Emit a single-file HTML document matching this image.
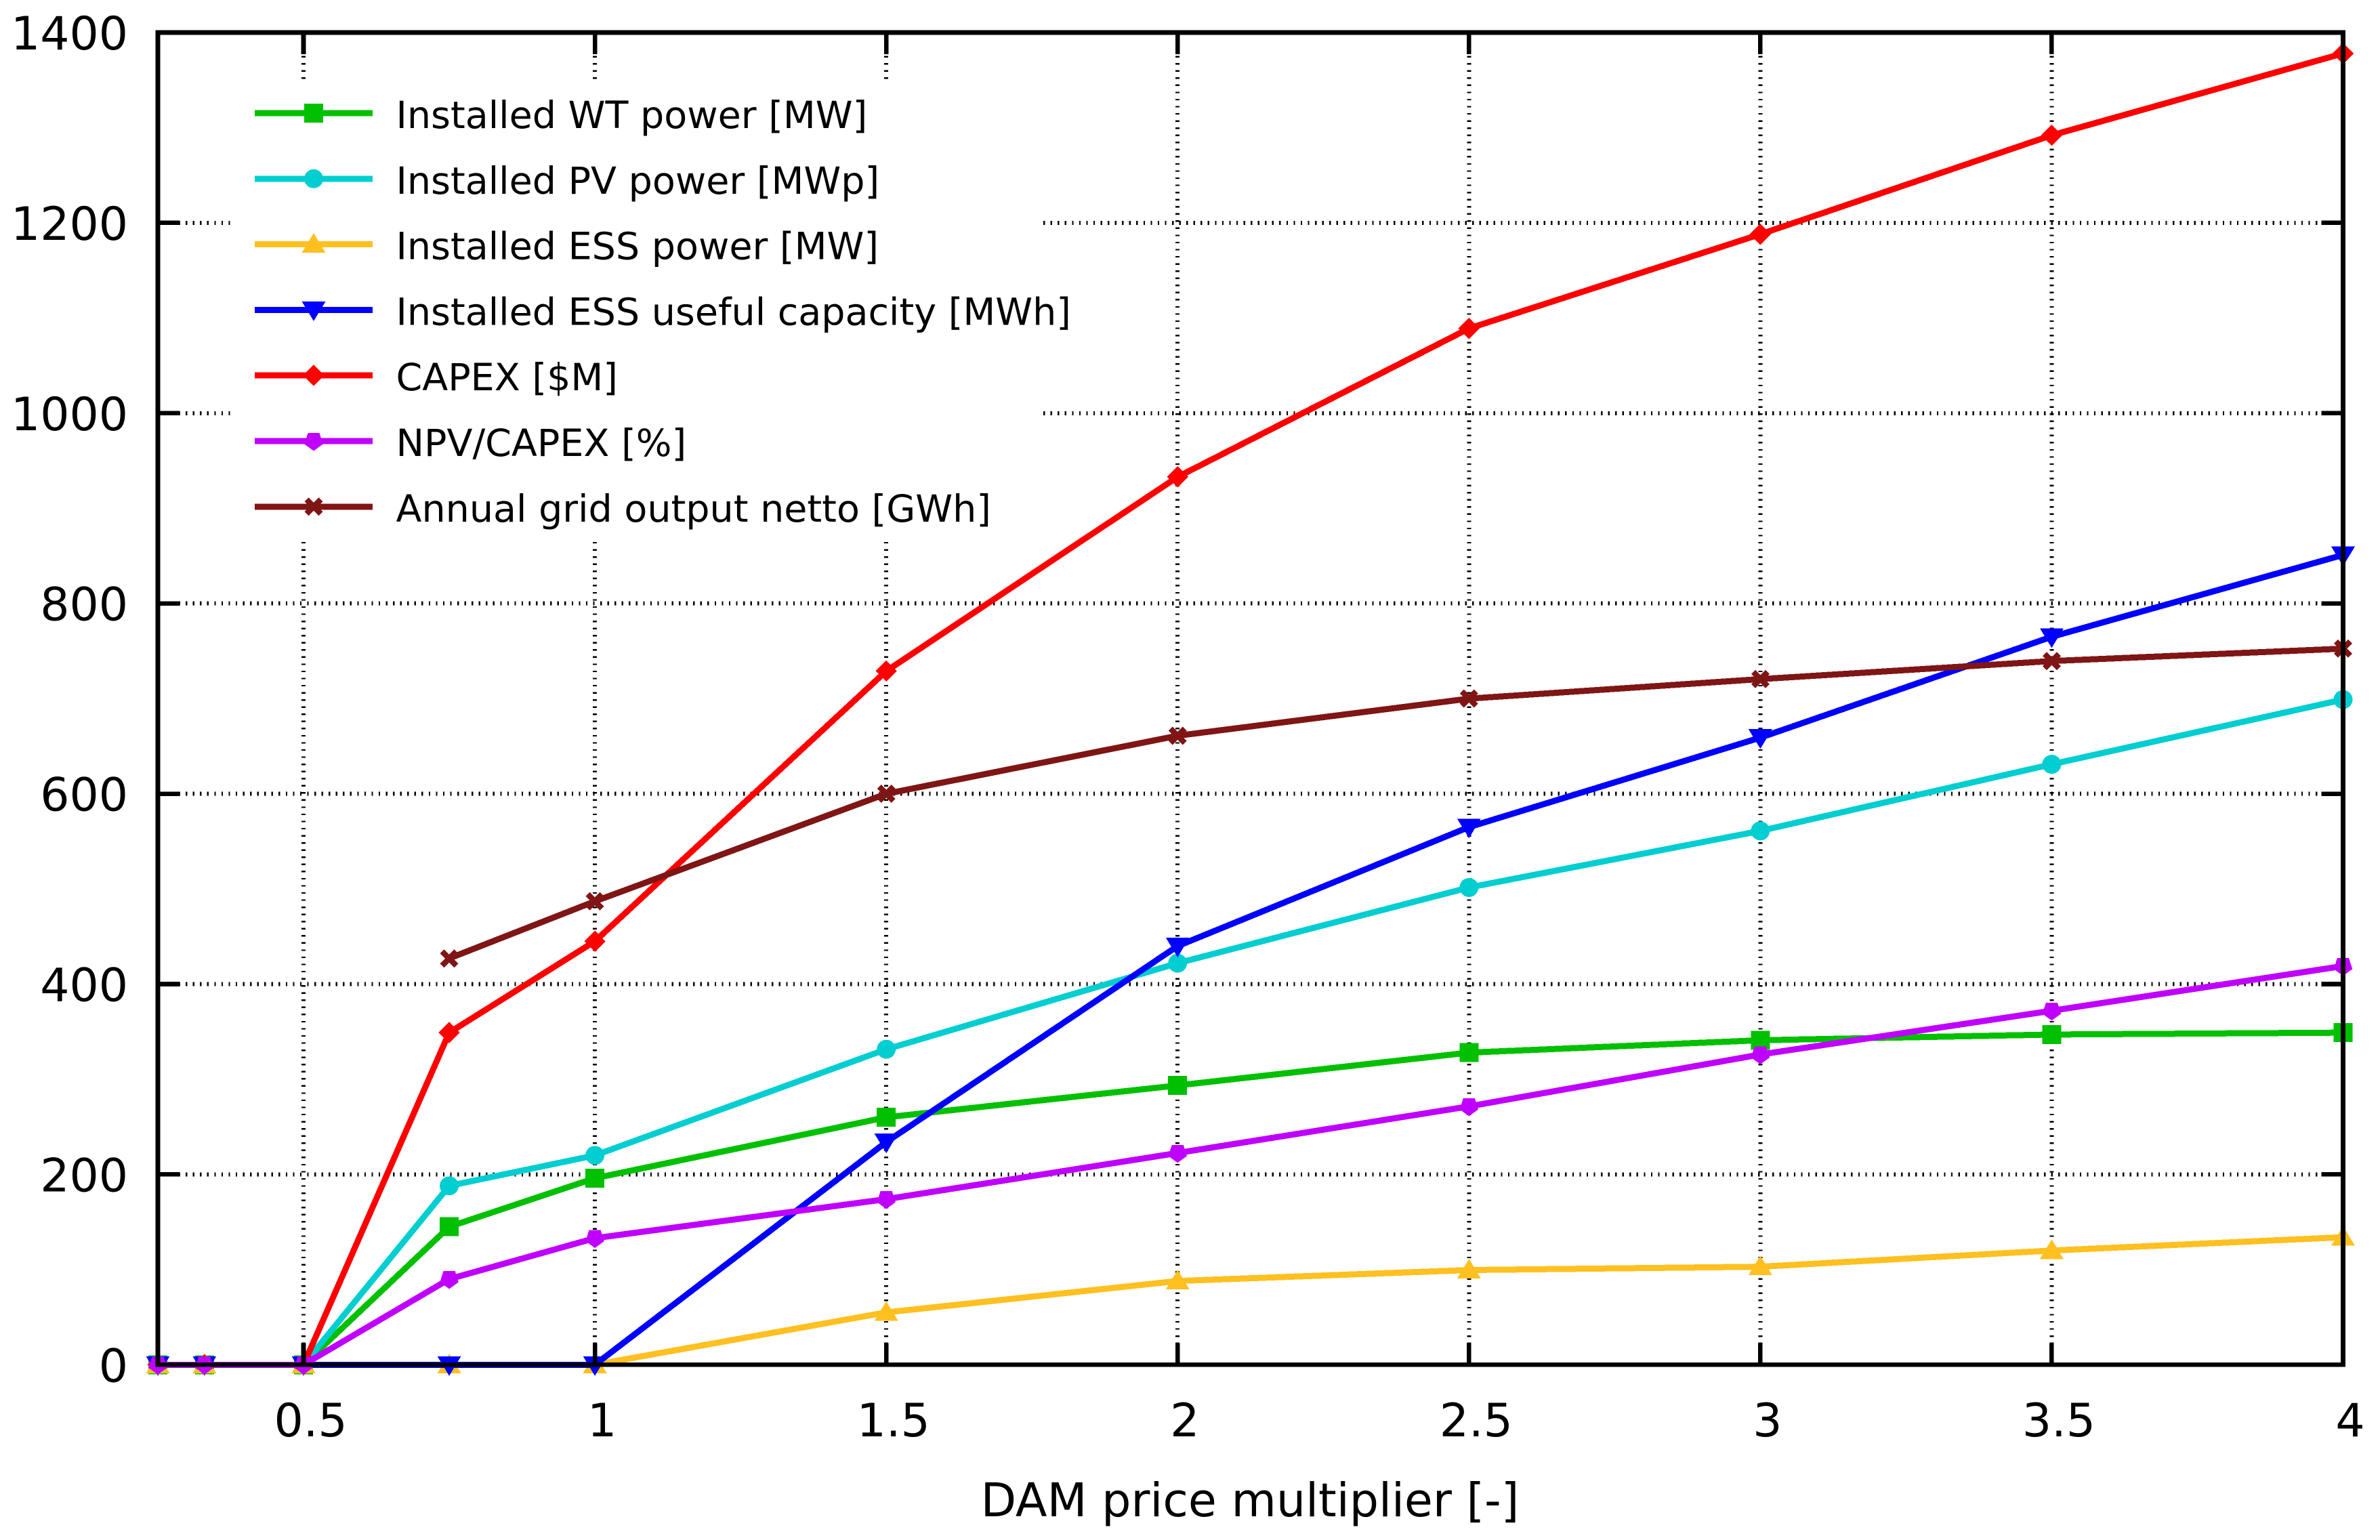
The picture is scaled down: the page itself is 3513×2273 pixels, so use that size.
<!DOCTYPE html>
<html lang="en">
<head>
<meta charset="utf-8">
<title>DAM price multiplier chart</title>
<style>
html,body{margin:0;padding:0;background:#fff;width:3513px;height:2273px;overflow:hidden}
svg{display:block}
text{font-family:"DejaVu Sans","Liberation Sans",sans-serif;fill:#000}
</style>
</head>
<body>
<svg id="chart" xmlns="http://www.w3.org/2000/svg" width="3513" height="2273" viewBox="0 0 3513 2273">
  <rect x="0" y="0" width="3513" height="2273" fill="#fff"/>
  <g id="grid"></g>
  <rect x="342" y="119" width="1190" height="679" fill="#fff"/>
  <g id="series"></g>
  <g id="legend"></g>
  <g id="axes"></g>
  <text x="1845" y="2238" font-size="68.2" text-anchor="middle">DAM price multiplier [-]</text>
</svg>
<script>
const multipliers = [0.25, 0.33, 0.5, 0.75, 1, 1.5, 2, 2.5, 3, 3.5, 4];
const wtPower     = [0, 0, 0, 145, 196, 260, 293.5, 328, 341, 347, 349];
const pvPower     = [0, 0, 0, 188, 220, 331.5, 422, 501.5, 561, 631, 699];
const essPower    = [0, 0, 0, 0, 0, 55, 88, 99.5, 103, 120, 134];
const essCapacity = [0, 0, 0, 0, 0, 234, 440, 565, 659, 765, 851];
const capex       = [0, 0, 0, 349, 445, 729, 933, 1089, 1188, 1292, 1378];
const npvCapex    = [0, 0, 0, 90, 133, 174, 222.5, 271.5, 326, 372, 419];
const gridOutput  = [null, null, null, 427, 487, 600, 661, 700, 720.5, 739.5, 752.5];
const xTickValues = [0.5, 1, 1.5, 2, 2.5, 3, 3.5, 4];
const yTickValues = [0, 200, 400, 600, 800, 1000, 1200, 1400];
const seriesNames = [
  "Installed WT power [MW]",
  "Installed PV power [MWp]",
  "Installed ESS power [MW]",
  "Installed ESS useful capacity [MWh]",
  "CAPEX [$M]",
  "NPV/CAPEX [%]",
  "Annual grid output netto [GWh]"
];
const seriesKeys = ["wt-power", "pv-power", "ess-power", "ess-capacity", "capex", "npv-capex", "grid-output"];
const seriesColors = ["#00c000", "#00ced1", "#ffc020", "#0000ff", "#ff0000", "#c000ff", "#801515"];
const seriesShapes = ["square", "circle", "triangle", "invtriangle", "diamond", "pentagon", "cross"];
const seriesValues = [wtPower, pvPower, essPower, essCapacity, capex, npvCapex, gridOutput];

const NS = "http://www.w3.org/2000/svg";
const plot = {left: 233, right: 3458.5, top: 48, bottom: 2014.3};
const xMin = 0.25, xMax = 4, yMin = 0, yMax = 1400;
function xScale(v) { return plot.left + (v - xMin) / (xMax - xMin) * (plot.right - plot.left); }
function yScale(v) { return plot.bottom - (v - yMin) / (yMax - yMin) * (plot.bottom - plot.top); }

function make(tag, attrs, parent) {
  const el = document.createElementNS(NS, tag);
  for (const k in attrs) el.setAttribute(k, attrs[k]);
  parent.appendChild(el);
  return el;
}
function polyPoints(cx, cy, pts) {
  return pts.map(function (p) { return (cx + p[0]) + "," + (cy + p[1]); }).join(" ");
}
const shapeOutlines = {
  triangle: [[0, -16.5], [17.5, 12.5], [-17.5, 12.5]],
  invtriangle: [[0, 16.5], [17.5, -12.5], [-17.5, -12.5]],
  diamond: [[0, -15.7], [15.7, 0], [0, 15.7], [-15.7, 0]],
  pentagon: [[0, 14.5], [13.8, 4.5], [8.5, -12], [-8.5, -12], [-13.8, 4.5]],
  cross: [[-7.5, -13.5], [0, -6], [7.5, -13.5], [13.5, -7.5], [6, 0], [13.5, 7.5], [7.5, 13.5], [0, 6], [-7.5, 13.5], [-13.5, 7.5], [-6, 0], [-13.5, -7.5]]
};
function drawMarker(shape, cx, cy, color, parent) {
  if (shape === "square") return make("rect", {x: cx - 14, y: cy - 14, width: 28, height: 28, fill: color}, parent);
  if (shape === "circle") return make("circle", {cx: cx, cy: cy, r: 14, fill: color}, parent);
  return make("polygon", {points: polyPoints(cx, cy, shapeOutlines[shape]), fill: color}, parent);
}

const gridGroup = document.getElementById("grid");
const seriesGroup = document.getElementById("series");
const legendGroup = document.getElementById("legend");
const axesGroup = document.getElementById("axes");
const crisp = "crispEdges";

/* grid */
xTickValues.forEach(function (v) {
  if (v === xMax) return;
  const line = make("line", {x1: xScale(v), x2: xScale(v), y1: plot.bottom, y2: plot.top, stroke: "#000", "stroke-width": 6, "stroke-dasharray": "2.3 8.25", "stroke-dashoffset": 1.15, "shape-rendering": crisp}, gridGroup);
  
  
});
yTickValues.forEach(function (v) {
  if (v === yMin || v === yMax) return;
  const line = make("line", {x1: plot.left, x2: plot.right, y1: yScale(v), y2: yScale(v), stroke: "#000", "stroke-width": 6, "stroke-dasharray": "2.3 8.25", "stroke-dashoffset": 1.15, "shape-rendering": crisp}, gridGroup);
  
  
});

/* series */
seriesValues.forEach(function (values, s) {
  const group = make("g", {}, seriesGroup);
  
  
  const pts = [];
  values.forEach(function (v, i) {
    if (v !== null) pts.push(xScale(multipliers[i]) + "," + yScale(v));
  });
  const line = make("polyline", {points: pts.join(" "), fill: "none", stroke: seriesColors[s], "stroke-width": 9, "stroke-linejoin": "round", "shape-rendering": crisp}, group);
  
  
  values.forEach(function (v, i) {
    if (v === null) return;
    const marker = drawMarker(seriesShapes[s], xScale(multipliers[i]), yScale(v), seriesColors[s], group);
    marker.setAttribute("shape-rendering", crisp);
    
    
  });
});

/* legend */
seriesNames.forEach(function (name, s) {
  const rowY = 167 + s * 96.8;
  const row = make("g", {}, legendGroup);
  
  
  const sample = make("line", {x1: 376, x2: 550, y1: rowY, y2: rowY, stroke: seriesColors[s], "stroke-width": 9, "shape-rendering": crisp}, row);
  
  
  const marker = drawMarker(seriesShapes[s], 463, rowY, seriesColors[s], row);
  marker.setAttribute("shape-rendering", crisp);
  
  
  const label = make("text", {x: 584.5, y: rowY + 22, "font-size": 55.5}, row);
  label.textContent = name;
  
  
});

/* axes: ticks, labels, border */
xTickValues.forEach(function (v) {
  const x = xScale(v);
  if (v !== xMax) {
    const bottomTick = make("line", {x1: x, x2: x, y1: plot.bottom, y2: plot.bottom - 32, stroke: "#000", "stroke-width": 6.6, "shape-rendering": crisp}, axesGroup);
    
    
    const topTick = make("line", {x1: x, x2: x, y1: plot.top, y2: plot.top + 32, stroke: "#000", "stroke-width": 6.6, "shape-rendering": crisp}, axesGroup);
    
    
  }
  const label = make("text", {x: x + 10.5, y: 2120, "font-size": 68, "text-anchor": "middle"}, axesGroup);
  label.textContent = String(v);
  
  
});
yTickValues.forEach(function (v) {
  const y = yScale(v);
  if (v !== yMin && v !== yMax) {
    const leftTick = make("line", {x1: plot.left, x2: plot.left + 32, y1: y, y2: y, stroke: "#000", "stroke-width": 6.6, "shape-rendering": crisp}, axesGroup);
    
    
    const rightTick = make("line", {x1: plot.right, x2: plot.right - 32, y1: y, y2: y, stroke: "#000", "stroke-width": 6.6, "shape-rendering": crisp}, axesGroup);
    
    
  }
  const label = make("text", {x: 189, y: y + 25, "font-size": 68, "text-anchor": "end"}, axesGroup);
  label.textContent = String(v);
  
  
});
const frame = make("rect", {x: plot.left, y: plot.top, width: plot.right - plot.left, height: plot.bottom - plot.top, fill: "none", stroke: "#000", "stroke-width": 6.6, "shape-rendering": crisp}, axesGroup);


</script>
</body>
</html>
